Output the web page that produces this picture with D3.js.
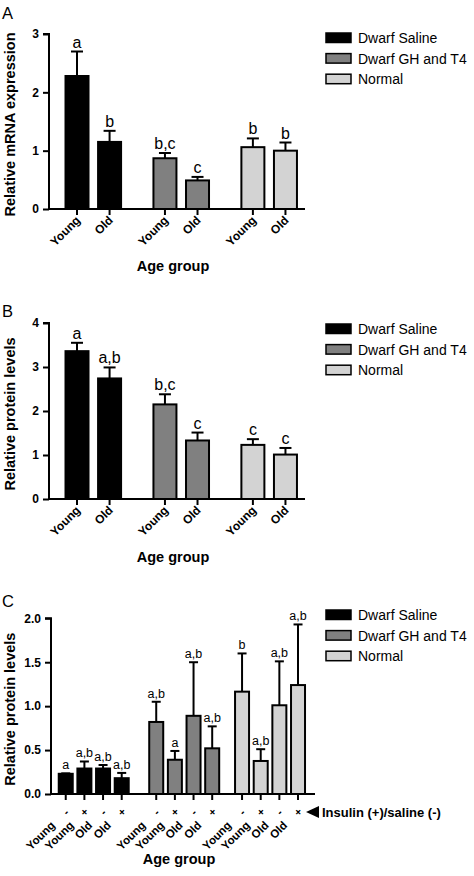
<!DOCTYPE html>
<html>
<head>
<meta charset="utf-8">
<script src="https://cdn.jsdelivr.net/npm/d3@7/dist/d3.min.js"></script>
<style>
  html, body { margin: 0; padding: 0; background: #fff; }
  svg { display: block; font-family: Arial, "Liberation Sans", sans-serif; }
</style>
</head>
<body>
<svg id="chart" width="474" height="876"></svg>
<script>
// ---------- data ----------
const groupNames = ["Dwarf Saline", "Dwarf GH and T4", "Normal"];
const groupFill = ["#000000", "#808080", "#d3d3d3"];

// Panel A & B categories
const ageAB = ["Young", "Old", "Young", "Old", "Young", "Old"];
const groupAB = [0, 0, 1, 1, 2, 2];

// Panel A: relative mRNA expression
const mrnaMean = [2.28, 1.15, 0.87, 0.49, 1.06, 1.00];
const mrnaSem = [0.42, 0.19, 0.09, 0.06, 0.15, 0.14];
const mrnaLetters = ["a", "b", "b,c", "c", "b", "b"];
const mrnaTicks = [0, 1, 2, 3];

// Panel B: relative protein levels
const protMean = [3.36, 2.74, 2.15, 1.33, 1.23, 1.01];
const protSem = [0.19, 0.25, 0.23, 0.18, 0.13, 0.15];
const protLetters = ["a", "a,b", "b,c", "c", "c", "c"];
const protTicks = [0, 1, 2, 3, 4];

// Panel C: insulin (+) / saline (-)
const ageC = ["Young", "Young", "Old", "Old", "Young", "Young", "Old", "Old", "Young", "Young", "Old", "Old"];
const treatC = ["-", "+", "-", "+", "-", "+", "-", "+", "-", "+", "-", "+"];
const groupC = [0, 0, 0, 0, 1, 1, 1, 1, 2, 2, 2, 2];
const insMean = [0.23, 0.29, 0.29, 0.18, 0.82, 0.39, 0.89, 0.52, 1.165, 0.376, 1.01, 1.24];
const insSem = [0.005, 0.08, 0.04, 0.06, 0.23, 0.10, 0.61, 0.25, 0.435, 0.134, 0.50, 0.69];
const insLetters = ["a", "a,b", "a,b", "a,b", "a,b", "a", "a,b", "a,b", "b", "a,b", "a,b", "a,b"];
const insTicks = [0, 0.5, 1.0, 1.5, 2.0];

// ---------- drawing ----------
const svg = d3.select("#chart");

function drawPanel(cfg) {
  const g = svg.append("g");
  const n = cfg.mean.length;
  const pos = d3.range(n).map(i => cfg.slot(i));
  const x = d3.scaleLinear().domain(cfg.xDomain).range(cfg.xRange);
  const y = d3.scaleLinear().domain([0, cfg.yMax]).range([cfg.y0, cfg.yTop]);
  const bw = cfg.barW;

  g.selectAll("rect.bar").data(d3.range(n)).join("rect")
    .attr("x", i => x(pos[i]) - bw / 2)
    .attr("y", i => y(cfg.mean[i]))
    .attr("width", bw)
    .attr("height", i => y(0) - y(cfg.mean[i]))
    .attr("fill", i => groupFill[cfg.group[i]])
    .attr("stroke", "#000").attr("stroke-width", 2);

  g.selectAll("line.err").data(d3.range(n)).join("line")
    .attr("x1", i => x(pos[i])).attr("x2", i => x(pos[i]))
    .attr("y1", i => y(cfg.mean[i])).attr("y2", i => y(cfg.mean[i] + cfg.sem[i]))
    .attr("stroke", "#000").attr("stroke-width", 2);
  g.selectAll("line.cap").data(d3.range(n)).join("line")
    .attr("x1", i => x(pos[i]) - cfg.capW / 2).attr("x2", i => x(pos[i]) + cfg.capW / 2)
    .attr("y1", i => y(cfg.mean[i] + cfg.sem[i])).attr("y2", i => y(cfg.mean[i] + cfg.sem[i]))
    .attr("stroke", "#000").attr("stroke-width", 2);

  g.selectAll("text.sig").data(d3.range(n)).join("text")
    .attr("x", i => x(pos[i]))
    .attr("y", i => y(cfg.mean[i] + cfg.sem[i]) - cfg.letterGap)
    .attr("text-anchor", "middle")
    .attr("fill", "#000")
    .attr("font-size", cfg.letterSize)
    .text(i => cfg.letters[i]);

  const yAxis = d3.axisLeft(y).tickValues(cfg.yTicks).tickSize(6).tickPadding(4)
    .tickFormat(cfg.yFormat);
  const ya = g.append("g").attr("transform", `translate(${cfg.xRange[0]},0)`).call(yAxis);
  ya.select(".domain").attr("stroke-width", 2).attr("d", `M-6,${cfg.yTop}H0V${cfg.y0}`);
  ya.selectAll(".tick line").attr("stroke-width", 2);
  ya.selectAll(".tick text").attr("font-size", 12).attr("font-weight", "bold")
    .attr("font-family", "Arial, 'Liberation Sans', sans-serif");

  const xa = g.append("g").attr("transform", `translate(0,${cfg.y0})`);
  xa.append("line").attr("x1", cfg.xRange[0] - 1).attr("x2", cfg.xRange[1])
    .attr("y1", 0).attr("y2", 0).attr("stroke", "#000").attr("stroke-width", 2);
  xa.selectAll("line.xt").data(d3.range(n)).join("line")
    .attr("x1", i => x(pos[i])).attr("x2", i => x(pos[i]))
    .attr("y1", 0).attr("y2", 6).attr("stroke", "#000").attr("stroke-width", 2);

  if (cfg.treat) {
    xa.selectAll("text.tr").data(d3.range(n)).join("text")
      .attr("transform", i => `translate(${x(pos[i])},${cfg.treatY}) rotate(-45)`)
      .attr("text-anchor", "middle").attr("dy", "0.35em")
      .attr("font-size", 11).attr("font-weight", "bold")
      .text(i => cfg.treat[i]);
  }
  xa.selectAll("text.xl").data(d3.range(n)).join("text")
    .attr("transform", i => `translate(${x(pos[i]) + cfg.labDx},${cfg.labDy}) rotate(-45)`)
    .attr("text-anchor", "end")
    .attr("font-size", cfg.labSize).attr("font-weight", "bold")
    .text(i => cfg.age[i]);

  g.append("text")
    .attr("x", (cfg.xRange[0] + cfg.xRange[1]) / 2 - 4)
    .attr("y", cfg.xTitleY)
    .attr("text-anchor", "middle").attr("font-size", 14.5).attr("font-weight", "bold")
    .text("Age group");
  g.append("text")
    .attr("transform", `translate(15,${(cfg.y0 + cfg.yTop) / 2 + 3}) rotate(-90)`)
    .attr("text-anchor", "middle").attr("font-size", 14.5).attr("font-weight", "bold")
    .text(cfg.yTitle);

  g.append("text").attr("x", 2).attr("y", cfg.panelY)
    .attr("font-size", 16.5).text(cfg.panel);

  const lg = g.append("g").attr("transform", `translate(326,${cfg.legendTop})`);
  groupNames.forEach((name, k) => {
    lg.append("rect").attr("x", 0).attr("y", k * 20.6 + 1)
      .attr("width", 25).attr("height", 9.5)
      .attr("fill", groupFill[k]).attr("stroke", "#000").attr("stroke-width", 1.5);
    lg.append("text").attr("x", 32).attr("y", k * 20.6 + 11)
      .attr("font-size", 14).text(name);
  });
}

const slotAB = i => i + [0, 0.7, 1.4][groupAB[i]];

drawPanel({
  panel: "A", panelY: 18.5,
  mean: mrnaMean, sem: mrnaSem, letters: mrnaLetters, group: groupAB, age: ageAB,
  slot: slotAB, xDomain: [-0.86, 7.0], xRange: [49, 305],
  y0: 209, yTop: 34, yMax: 3, yTicks: mrnaTicks, yFormat: d3.format("d"),
  barW: 23, capW: 12, letterSize: 16, letterGap: 4,
  labDx: 4, labDy: 12, labSize: 12, xTitleY: 271, yTitle: "Relative mRNA expression",
  legendTop: 32
});

drawPanel({
  panel: "B", panelY: 316.5,
  mean: protMean, sem: protSem, letters: protLetters, group: groupAB, age: ageAB,
  slot: slotAB, xDomain: [-0.86, 7.0], xRange: [49, 305],
  y0: 499, yTop: 323, yMax: 4, yTicks: protTicks, yFormat: d3.format("d"),
  barW: 23, capW: 12, letterSize: 16, letterGap: 4,
  labDx: 4, labDy: 12, labSize: 12, xTitleY: 562, yTitle: "Relative protein levels",
  legendTop: 323
});

drawPanel({
  panel: "C", panelY: 607,
  mean: insMean, sem: insSem, letters: insLetters, group: groupC, age: ageC, treat: treatC,
  slot: i => i + [0, 0.85, 1.45][groupC[i]], xDomain: [-0.79, 13.36], xRange: [51, 315],
  y0: 794, yTop: 618.3, yMax: 2, yTicks: insTicks, yFormat: d3.format(".1f"),
  barW: 14, capW: 9, letterSize: 12.5, letterGap: 4,
  treatY: 18, labDx: -10, labDy: 32, labSize: 11.5, xTitleY: 864, yTitle: "Relative protein levels",
  legendTop: 609
});

const ind = svg.append("g");
ind.append("path").attr("d", d3.line()([[306, 812], [319, 806], [319, 818]]) + "Z").attr("fill", "#000");
ind.append("text").attr("x", 322).attr("y", 817).attr("font-size", 13).attr("font-weight", "bold")
  .text("Insulin (+)/saline (-)");
</script>
</body>
</html>
